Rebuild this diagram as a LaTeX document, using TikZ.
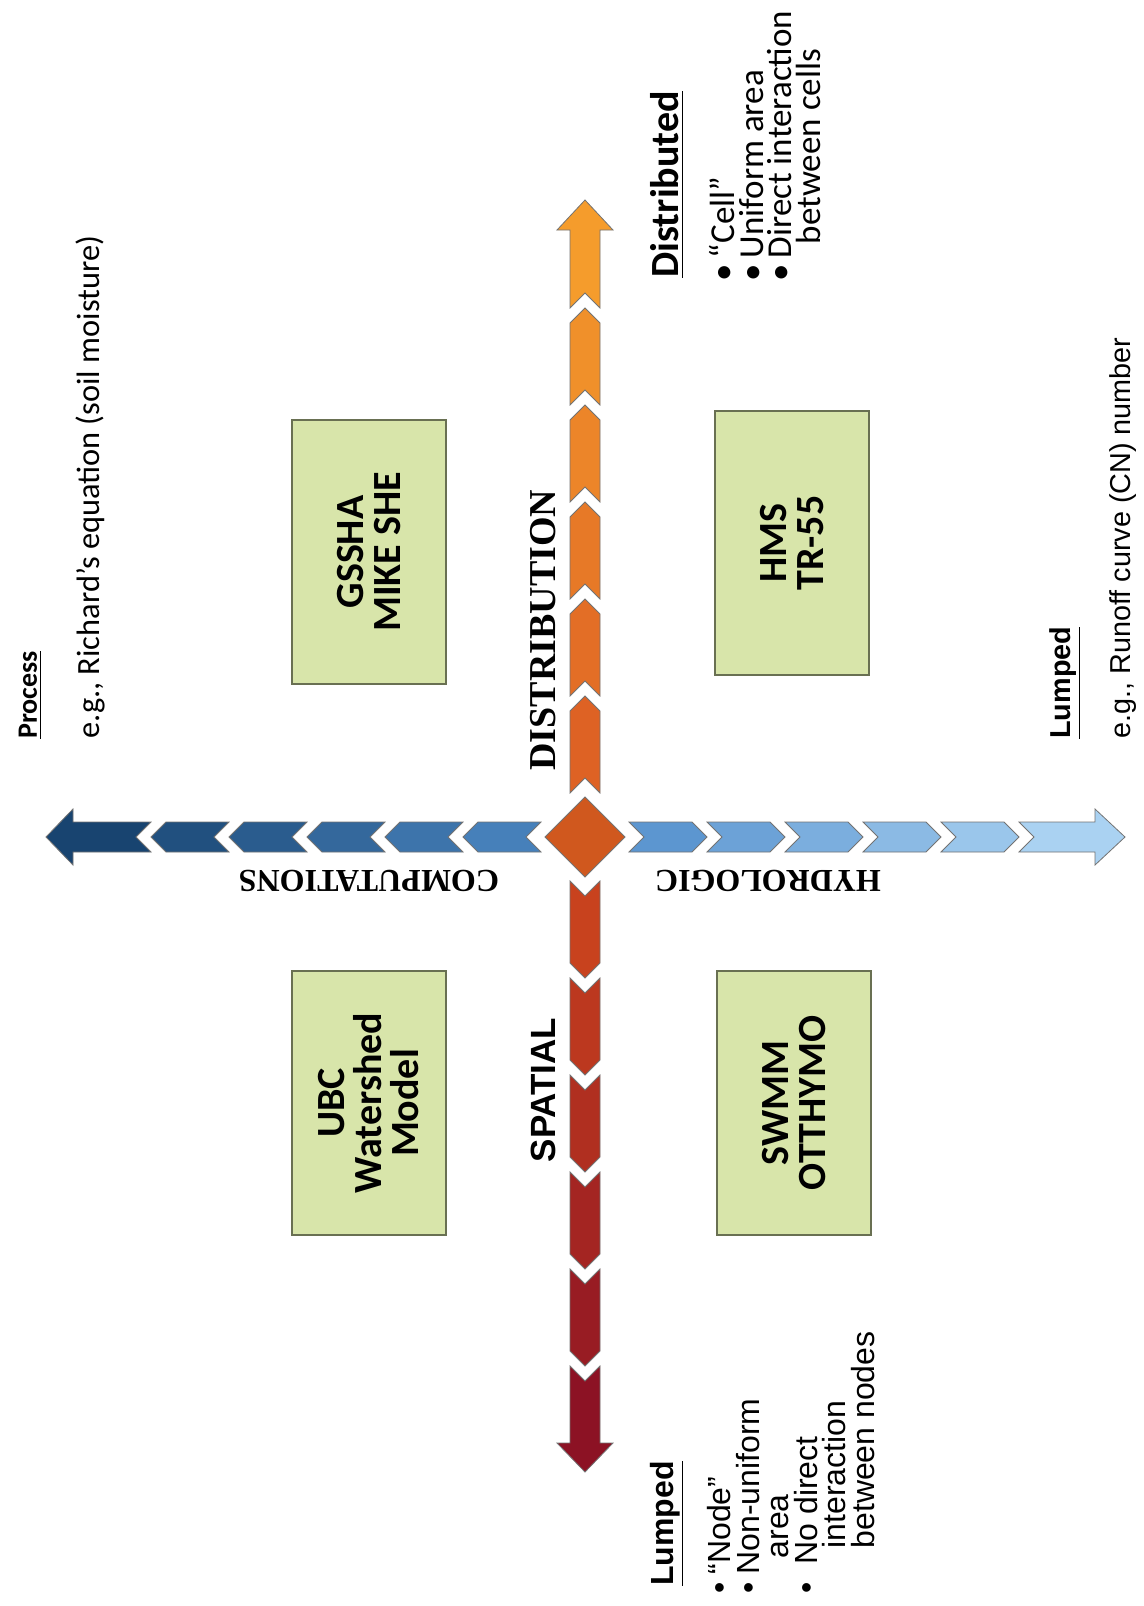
\documentclass[tikz,border=0pt]{standalone}
\usepackage{fontspec}
\setmainfont{Carlito}
\newfontfamily\arialfont{Liberation Sans}
\newfontfamily\cambriafont{Liberation Serif}
\usetikzlibrary{positioning}

\definecolor{vmid}{RGB}{222,98,36}
\definecolor{vtop}{RGB}{245,156,44}
\definecolor{vlow}{RGB}{200,66,30}
\definecolor{vbot}{RGB}{140,18,36}
\definecolor{hmid}{RGB}{70,128,186}
\definecolor{hleft}{RGB}{24,68,112}
\definecolor{hmidb}{RGB}{92,150,208}
\definecolor{hright}{RGB}{170,210,242}
\definecolor{centrefill}{RGB}{208,88,30}
\definecolor{boxfill}{RGB}{216,229,170}
\definecolor{boxline}{RGB}{105,112,82}

\tikzset{
  chev/.style={draw=black!55, line width=0.4pt, line join=miter},
  upright/.style={rotate=90, inner sep=0pt},
  model/.style={draw=boxline, fill=boxfill, line width=0.6pt, rotate=90,
    minimum width=132pt, minimum height=77pt, align=center,
    font=\fontsize{20}{18.5}\selectfont\bfseries},
  axislabel/.style={inner sep=0pt, font=\fontsize{16}{19}\selectfont\cambriafont\bfseries},
}

\begin{document}
\begin{tikzpicture}[x=0.5pt, y=-0.5pt]
\useasboundingbox[fill=white] (0,0) rectangle (1144,1606);

% the four arms of chevrons
\foreach \ang/\len/\hb/\tip/\cA/\cB in {90/97/607/637/vmid/vtop, 270/97/606/635/vlow/vbot,
    180/78/512/539/hmid/hleft, 0/78/510/540/hmidb/hright}{
  \begin{scope}[shift={(585,837)}, rotate=\ang]
    \foreach \k in {0,...,4}{
      \pgfmathsetmacro\segA{44+\k*\len}
      \pgfmathsetmacro\segB{\segA+\len}
      \pgfmathsetmacro\pct{100-20*\k}
      \draw[chev, fill=\cA!\pct!\cB] (\segA,-15) -- (\segB-15,-15) -- (\segB,0)
        -- (\segB-15,15) -- (\segA,15) -- (\segA+15,0) -- cycle;
    }
    \pgfmathsetmacro\segA{44+5*\len}
    \draw[chev, fill=\cB] (\segA,-15) -- (\hb,-15) -- (\hb,-28) -- (\tip,0)
      -- (\hb,28) -- (\hb,15) -- (\segA,15) -- (\segA+15,0) -- cycle;
  \end{scope}
}
\draw[chev, fill=centrefill] (585,797) -- (625,837) -- (585,877) -- (545,837) -- cycle;

% axis labels
\node[axislabel, rotate=90, font=\fontsize{19}{22}\selectfont\cambriafont\bfseries] (axdist) at (543,630) {DISTRIBUTION};
\node[inner sep=0pt, rotate=90, font=\fontsize{17.5}{20}\selectfont\arialfont\bfseries] (axspat) at (543,1090) {SPATIAL};
\node[axislabel, rotate=180] (axcomp) at (369,881) {COMPUTATIONS};
\node[axislabel, rotate=180] (axhydro) at (768,881) {HYDROLOGIC};

% models
\node[model] (gssha) at (369,552) {GSSHA\\MIKE SHE};
\node[model] (hms) at (792,543) {HMS\\TR-55};
\node[model] (ubc) at (369,1103) {UBC\\Watershed\\Model};
\node[model] (swmm) at (794,1103) {SWMM\\OTTHYMO};

% process / lumped computations
\node[upright, anchor=west, font=\fontsize{14}{17}\selectfont\bfseries] (proc) at (30,739) {\underline{Process}};
\node[upright, anchor=west, font=\fontsize{16.2}{19}\selectfont] (procex) at (90,739) {e.g., Richard’s equation (soil moisture)};
\node[upright, anchor=west, font=\fontsize{14.4}{17}\selectfont\arialfont\bfseries] (lumphyd) at (1065,739) {\underline{Lumped}};
\node[upright, anchor=west, font=\fontsize{14.4}{17}\selectfont\arialfont] (lumpex) at (1123,739) {e.g., Runoff curve (CN) number};

% distributed / lumped space
\node[upright, anchor=west, font=\fontsize{20}{23}\selectfont\bfseries] (distr) at (667,278) {\underline{Distributed}};
\node[upright, anchor=north west, align=left, font=\fontsize{17.5}{14.3}\selectfont] (celllist) at (709,282)
  {\textbullet\hspace{3pt}“Cell”\\ \textbullet\hspace{3pt}Uniform area\\ \textbullet\hspace{3pt}Direct interaction\\
   \phantom{\textbullet\hspace{3pt}}\hspace{7pt}between cells};
\node[upright, anchor=west, font=\fontsize{16}{19}\selectfont\arialfont\bfseries] (lumpspat) at (667,1586) {\underline{Lumped}};
\node[upright, anchor=north west, align=left, font=\fontsize{16}{14.4}\selectfont\arialfont] (nodelist) at (707,1594)
  {\textbullet\hspace{4pt}“Node”\\ \textbullet\hspace{4pt}Non-uniform\\ \phantom{\textbullet\hspace{4pt}}\hspace{8pt}area\\
   \textbullet\hspace{9pt}No direct\\ \phantom{\textbullet\hspace{4pt}}\hspace{13pt}interaction\\
   \phantom{\textbullet\hspace{4pt}}\hspace{13pt}between nodes};
\end{tikzpicture}
\end{document}
